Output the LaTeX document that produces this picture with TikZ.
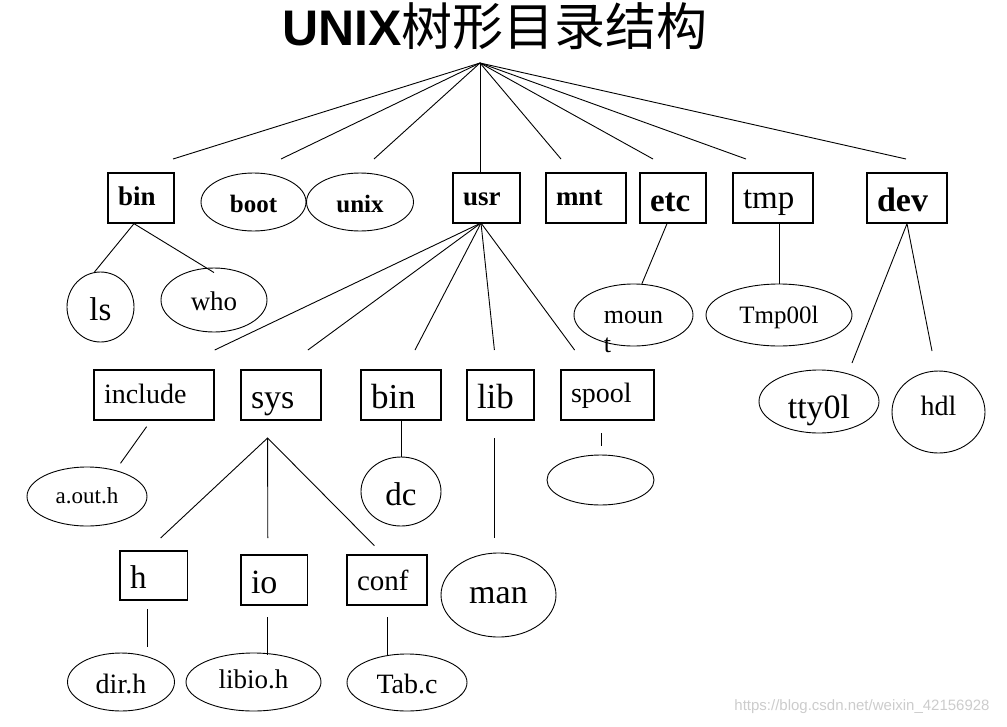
\documentclass[tikz,border=0pt]{standalone}
\usepackage{fontspec}
\setmainfont{Liberation Serif}
\newfontfamily\cjk{Noto Sans CJK SC}
\newfontfamily\titlesans{Liberation Sans}
\usetikzlibrary{shapes.geometric}
\newcommand\fsz[1]{\fontsize{#1}{#1}\selectfont}

\begin{document}
\begin{tikzpicture}[x=1pt, y=-1pt, line width=0.9pt,
		dirbox/.style 2 args={draw, line width=1.3pt, minimum height=50, inner xsep=10, inner ysep=0, align=left, text width=#1, text height=#2, text depth=0pt},
		filenode/.style 2 args={draw, ellipse, line width=0.9pt, inner sep=0, minimum width=#1, minimum height=#2},
		baseat/.style={text height=#1, text depth=0pt}]
		\useasboundingbox (0,0) rectangle (1007,726);
		
		\node (title) at (495,26) {\titlesans\bfseries\fsz{50}UNIX\cjk\mdseries\fsz{51}树形目录结构};
		
		\node[dirbox={46}{14pt}, font=\bfseries\fsz{27}] (bin) at (141,198) {bin};
		\node[filenode={105}{58}, baseat=20pt, font=\bfseries\fsz{25}] (boot) at (253.5,202) {boot};
		\node[filenode={107}{58}, baseat=20pt, font=\bfseries\fsz{25}] (unix) at (360,202) {unix};
		\node[dirbox={47}{14pt}, font=\bfseries\fsz{27}] (usr) at (486.5,198) {usr};
		\node[dirbox={60}{14pt}, font=\bfseries\fsz{27}] (mnt) at (586,198) {mnt};
		\node[dirbox={46}{27pt}, font=\bfseries\fsz{33}] (etc) at (673,198) {etc};
		\node[dirbox={60}{20pt}, font=\fsz{33}] (tmp) at (773,198) {tmp};
		\node[dirbox={60}{26pt}, font=\bfseries\fsz{34}] (dev) at (907,198) {dev};
		
		\node[filenode={67}{70}, baseat=26pt, font=\fsz{33}] (ls) at (100.5,307) {ls};
		\node[filenode={106}{64}, baseat=20pt, font=\fsz{27}] (who) at (214,300) {who};
		\node[filenode={119}{62}, baseat=16pt, font=\fontsize{26}{29}\selectfont] (mount) at (633.5,315) {\begin{tabular}[t]{@{}l@{}}moun\\t\end{tabular}};
		\node[filenode={146}{62}, baseat=17pt, font=\fsz{25}] (tmpl) at (779,315) {Tmp00l};
		\node[filenode={120}{63}, baseat=34pt, font=\fsz{34}] (tty) at (819,401.5) {tty0l};
		\node[filenode={93}{82}, baseat=6pt, font=\fsz{28}] (hdl) at (938.5,412) {hdl};
		
		\node[dirbox={100}{16pt}, font=\fsz{28}] (include) at (154,395) {include};
		\node[dirbox={60}{26pt}, font=\fsz{34}] (sys) at (281,395) {sys};
		\node[dirbox={60}{26pt}, font=\fsz{35}] (ubin) at (401,395) {bin};
		\node[dirbox={47}{26pt}, font=\fsz{35}] (lib) at (500.5,395) {lib};
		\node[dirbox={73}{14pt}, font=\fsz{28}] (spool) at (607.5,395) {spool};
		
		\node[filenode={120}{59}, baseat=13pt, font=\fsz{23}] (aouth) at (87,496.5) {a.out.h};
		\node[filenode={80}{69}, baseat=27pt, font=\fsz{33}] (dc) at (401,491.5) {dc};
		\node[filenode={107}{50}] (spoolf) at (600.5,480) {};
		
		\node[dirbox={47.5}{25pt}, minimum height=49, font=\fsz{33}] (h) at (153.75,575.5) {h};
		\node[dirbox={46.6}{26pt}, font=\fsz{34}] (io) at (274.3,580) {io};
		\node[dirbox={60}{20pt}, font=\fsz{29}] (conf) at (387,580) {conf};
		\node[filenode={115}{84}, baseat=16pt, font=\fsz{34}] (man) at (498.5,595) {man};
		
		\node[filenode={107}{58}, baseat=22pt, font=\fsz{28}] (dirh) at (121,682) {dir.h};
		\node[filenode={135}{58}, baseat=12pt, font=\fsz{27}] (libioh) at (253.5,682) {libio.h};
		\node[filenode={120}{57}, baseat=22pt, font=\fsz{28}] (tabc) at (407,682.5) {Tab.c};
		
		\node[text=gray!40, font=\titlesans\fsz{15}] (mark) at (862,707) {https://blog.csdn.net/weixin\_42156928};
		
		\coordinate (root) at (480,63);
		\draw (root) -- (root |- usr.north);
		\foreach \n/\x in {bin/173, boot/281, unix/374, mnt/561, etc/653, tmp/746, dev/906} {
			\coordinate (\n-in) at (\x,159);
			\draw (root) -- (\n-in);
		}
		
		\draw ([xshift=-7]bin.south) -- (ls.100);
		\draw ([xshift=-7]bin.south) -- ([yshift=-5]who.north);
		
		\coordinate (usr-out) at (481,223);
		\foreach \n/\x in {include/214.7, sys/307.9, ubin/415, lib/494.4, spool/574.6} {
			\coordinate (\n-in) at (\x,350);
			\draw (usr-out) -- (\n-in);
		}
		
		\draw ([xshift=-6]etc.south) -- (mount.75);
		\draw (tmpl.north |- tmp.south) -- (tmpl.north);
		\coordinate (tty-in) at (852,363);
		\coordinate (hdl-in) at (932,351);
		\draw (tty-in) -- (dev.south) -- (hdl-in);
		
		\coordinate (include-out) at (146.6,426.7);
		\coordinate (aouth-in) at (120.5,463.3);
		\draw (include-out) -- (aouth-in);
		
		\coordinate (sys-out) at (267.6,438);
		\coordinate (h-in) at (160.6,538);
		\coordinate (io-in) at (267.8,538);
		\coordinate (conf-in) at (374.4,545.7);
		\draw (h-in) -- (sys-out) -- (conf-in);
		\draw (sys-out) -- (io-in);
		
		\draw (ubin.south) -- (dc.north);
		
		\foreach \n/\x/\a/\b in {lib/494.4/438/538, spool/601/433/446, h/147.7/609/646.7, io/267.8/617/655, conf/387.3/617/655} {
			\coordinate (\n-down) at (\x,\a);
			\coordinate (\n-end) at (\x,\b);
			\draw (\n-down) -- (\n-end);
		}
	\end{tikzpicture}
\end{document}
